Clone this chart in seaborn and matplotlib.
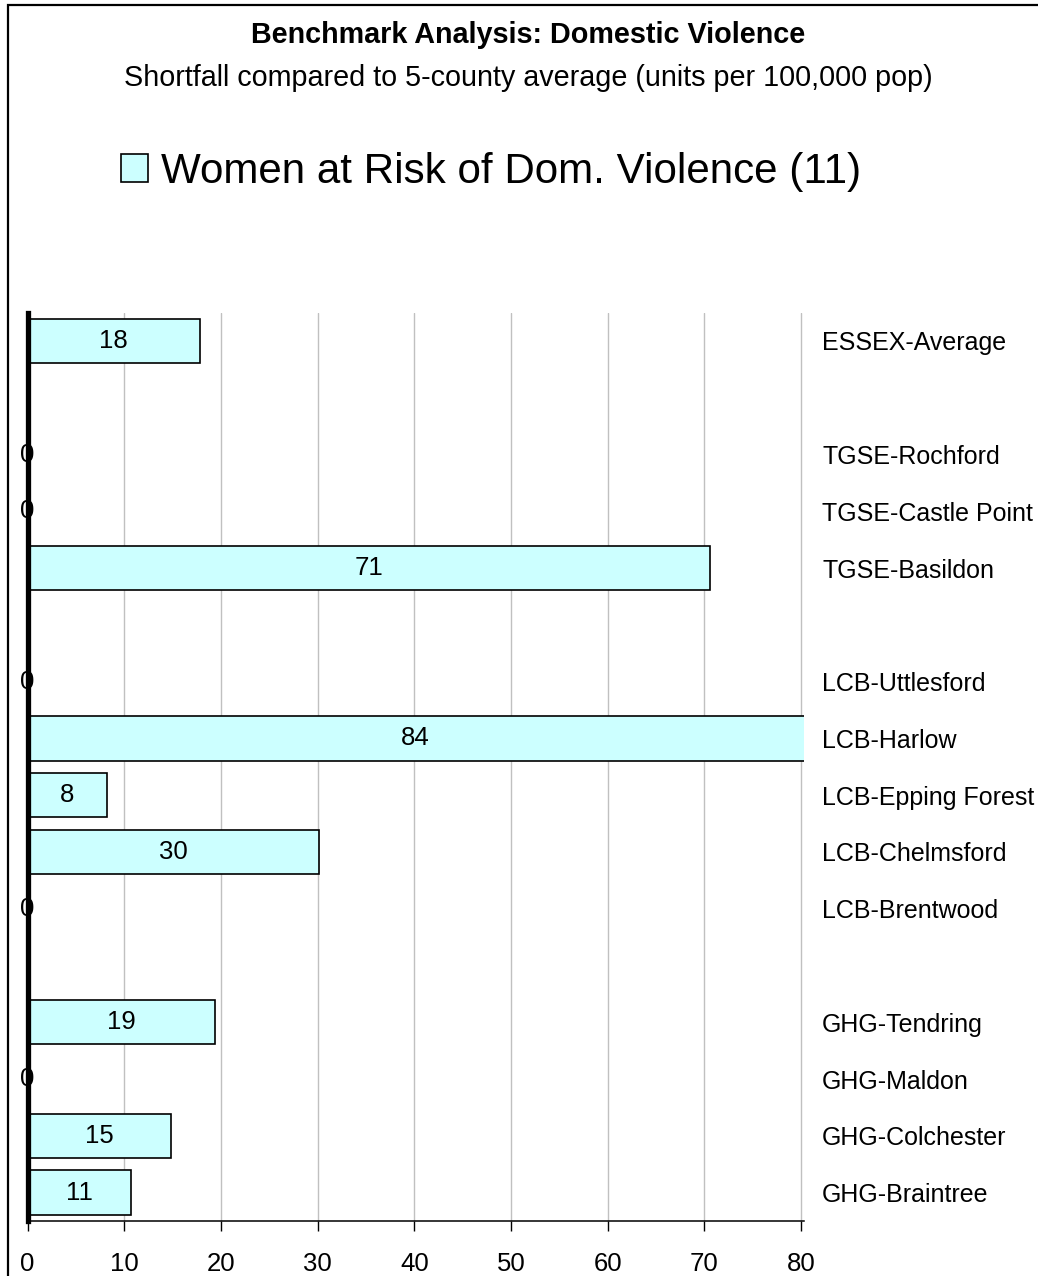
import pandas as pd
import seaborn as sns
import matplotlib.pyplot as plt
from matplotlib.patches import Rectangle

# rows top to bottom; the blank names are the gaps between the groups
areas = ["ESSEX-Average", " ", "TGSE-Rochford", "TGSE-Castle Point", "TGSE-Basildon",
         "  ", "LCB-Uttlesford", "LCB-Harlow", "LCB-Epping Forest", "LCB-Chelmsford",
         "LCB-Brentwood", "   ", "GHG-Tendring", "GHG-Maldon", "GHG-Colchester",
         "GHG-Braintree"]
shortfall = [17.8, None, 0, 0, 70.6, None, 0, 84.0, 8.2, 30.1, 0, None, 19.4, 0, 14.8, 10.7]
x_ticks = [0, 10, 20, 30, 40, 50, 60, 70, 80]
series_name = "Women at Risk of Dom. Violence (11)"

sns.set_theme(style="white")
plt.rcParams['font.family'] = ['Liberation Sans', 'DejaVu Sans']
plt.rcParams['text.color'] = 'black'
plt.rcParams['xtick.color'] = 'black'
plt.rcParams['ytick.color'] = 'black'

df = pd.DataFrame({"area": areas, "value": shortfall}).dropna()

W, H = 1038, 1276
fig = plt.figure(figsize=(W / 100, H / 100), dpi=100)
# axes in pixel terms: x=0 at 27.5px, right edge 804px, top 312.6px, bottom 1221px
ax = fig.add_axes([27.5 / W, 1 - 1221 / H, (804 - 27.5) / W, (1221 - 312.6) / H])

sns.barplot(data=df, x="value", y="area", order=areas, orient="h", color="#CCFFFF",
            saturation=1, edgecolor="black", linewidth=1.2, width=0.78,
            label=series_name, ax=ax)

ax.bar_label(ax.containers[0], fmt="%.0f", label_type="center", fontsize=18.5,
             color="black")

ax.set_xlim(0, 80.3)
ax.set_ylim(15.5, -0.5)
ax.set_xticks(x_ticks)
ax.set_xlabel("")
ax.set_ylabel("")
ax.xaxis.grid(True, color="#C0C0C0", linewidth=1)
ax.set_axisbelow(True)

ax.yaxis.tick_right()
ax.tick_params(axis="y", length=0, pad=13, labelsize=18)
ax.tick_params(axis="x", bottom=True, direction="out", length=7, width=1,
               color="black", pad=15, labelsize=18.5)

for side in ["top", "right"]:
    ax.spines[side].set_visible(False)
ax.spines["bottom"].set_color("black")
ax.spines["bottom"].set_linewidth(1.1)
ax.spines["left"].set_color("black")
ax.spines["left"].set_linewidth(3.8)
ax.spines["left"].set_zorder(5)

if ax.legend_:
    ax.legend_.remove()
handles, labels = ax.get_legend_handles_labels()
fig.legend(handles[:1], labels[:1], loc="center left",
           bbox_to_anchor=(83 / W, 1 - 172 / H), frameon=False, fontsize=30.3,
           handlelength=0.65, handleheight=0.65, handletextpad=0.3)

fig.text(528 / W, 1 - 35 / H, "Benchmark Analysis: Domestic Violence",
         ha="center", va="center", fontsize=20.7, fontweight="bold")
fig.text(528 / W, 1 - 78 / H,
         "Shortfall compared to 5-county average (units per 100,000 pop)",
         ha="center", va="center", fontsize=20.7)

# chart frame, cut by the right and bottom edges of the image
fig.patches.append(Rectangle((8 / W, -0.1), 1.2, 1.1 - 5 / H, transform=fig.transFigure,
                             fill=False, edgecolor="black", linewidth=1.6))

fig.savefig("out.png", dpi=100)
